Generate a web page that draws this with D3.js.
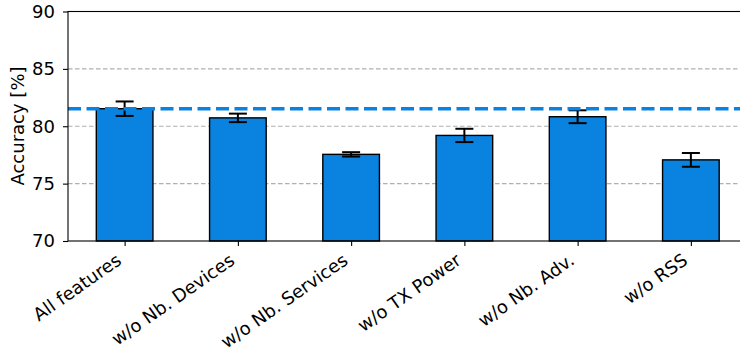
<!DOCTYPE html>
<html>
<head>
<meta charset="utf-8">
<script src="https://cdn.jsdelivr.net/npm/d3@7"></script>
<style>
  html, body { margin: 0; padding: 0; background: #fff; }
  svg { display: block; font-family: "DejaVu Sans", sans-serif; }
</style>
</head>
<body>
<svg id="chart" width="740" height="353"></svg>
<script>
// Feature-ablation accuracy (mean and spread)
const categories = ["All features", "w/o Nb. Devices", "w/o Nb. Services", "w/o TX Power", "w/o Nb. Adv.", "w/o RSS"];
const accuracy = [81.53, 80.73, 77.55, 79.2, 80.83, 77.07];
const spread = [0.63, 0.37, 0.19, 0.58, 0.56, 0.6];
const baseline = 81.53;
const yTicks = [70, 75, 80, 85, 90];

const barColor = "#0a82e0";
const fontSize = 18;
const svg = d3.select("#chart");

const plotLeft = 68, plotTop = 11.5, plotBottom = 241;
// the plot box runs a little past the right edge of the page
const plotRight = 747.5;

const x = d3.scaleLinear().domain([-0.5, categories.length - 0.5]).range([plotLeft, plotRight]);
const y = d3.scaleLinear().domain([70, 90]).range([plotBottom, plotTop]);
const barW = 0.5;

// horizontal grid
svg.append("g").selectAll("line")
  .data(yTicks.filter(t => t > 70 && t < 90))
  .join("line")
  .attr("x1", plotLeft).attr("x2", plotRight)
  .attr("y1", d => y(d)).attr("y2", d => y(d))
  .attr("stroke", "#b0b0b0").attr("stroke-width", 1.1)
  .attr("stroke-dasharray", "4.5,2.5");

// bars
svg.append("g").selectAll("rect")
  .data(accuracy)
  .join("rect")
  .attr("x", (d, i) => x(i - barW / 2))
  .attr("width", x(barW) - x(0))
  .attr("y", d => y(d))
  .attr("height", d => y(70) - y(d))
  .attr("fill", barColor)
  .attr("stroke", "#000").attr("stroke-width", 1.4);

// error bars
const eb = svg.append("g").attr("stroke", "#000").attr("stroke-width", 2);
accuracy.forEach((v, i) => {
  const cx = x(i);
  eb.append("line").attr("x1", cx).attr("x2", cx).attr("y1", y(v - spread[i])).attr("y2", y(v + spread[i]));
  [v - spread[i], v + spread[i]].forEach(e => {
    eb.append("line").attr("x1", cx - 9).attr("x2", cx + 9).attr("y1", y(e)).attr("y2", y(e));
  });
});

// reference level of the full feature set
svg.append("line")
  .attr("x1", plotLeft).attr("x2", plotRight)
  .attr("y1", y(baseline)).attr("y2", y(baseline))
  .attr("stroke", barColor).attr("stroke-width", 3.4)
  .attr("stroke-dasharray", "13,5.5");

// y axis
const yAxis = d3.axisLeft(y).tickValues(yTicks).tickSize(5).tickPadding(8).tickFormat(d3.format("d"));
const gy = svg.append("g").attr("transform", `translate(${plotLeft},0)`).call(yAxis);
gy.select(".domain").remove();
gy.selectAll(".tick line").attr("stroke", "#000").attr("stroke-width", 1.1);
gy.selectAll(".tick text").attr("font-size", fontSize).attr("fill", "#000")
  .attr("font-family", "DejaVu Sans, sans-serif");

// x axis
const xAxis = d3.axisBottom(x).tickValues(d3.range(categories.length)).tickSize(5).tickFormat(() => "");
const gx = svg.append("g").attr("transform", `translate(0,${plotBottom})`).call(xAxis);
gx.select(".domain").remove();
gx.selectAll(".tick line").attr("stroke", "#000").attr("stroke-width", 1.1);

// rotated category labels
svg.append("g").selectAll("text")
  .data(categories)
  .join("text")
  .attr("transform", (d, i) => `translate(${x(i) - 2},${plotBottom + 22}) rotate(-35)`)
  .attr("text-anchor", "end")
  .attr("font-size", fontSize)
  .attr("fill", "#000")
  .text(d => d);

// frame
svg.append("rect")
  .attr("x", plotLeft).attr("y", plotTop)
  .attr("width", plotRight - plotLeft).attr("height", plotBottom - plotTop)
  .attr("fill", "none").attr("stroke", "#000").attr("stroke-width", 1.1);

// y label
svg.append("text")
  .attr("transform", `translate(23.5,126) rotate(-90)`)
  .attr("text-anchor", "middle")
  .attr("font-size", fontSize)
  .attr("fill", "#000")
  .text("Accuracy [%]");
</script>
</body>
</html>
